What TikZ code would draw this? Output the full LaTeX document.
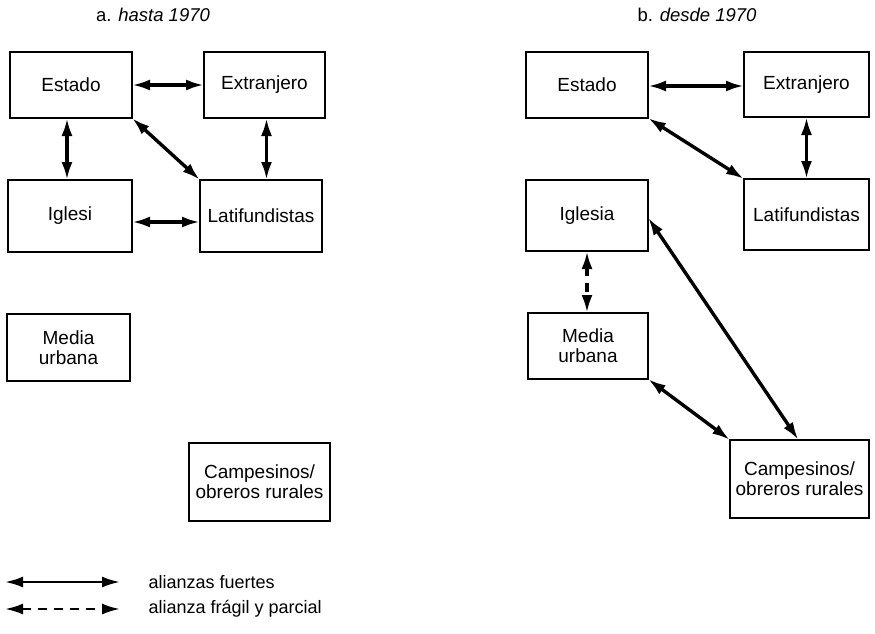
\documentclass[tikz,border=0pt]{standalone}
\usepackage{fontspec}
\setmainfont{Liberation Sans}
\usetikzlibrary{arrows.meta}
\begin{document}
\begin{tikzpicture}[x=1pt,y=-1pt,
  box/.style={draw,line width=1.5pt,inner sep=0pt,outer sep=0pt,align=center,
    font=\fontsize{19}{20}\selectfont},
  strong/.style={line width=3.4pt,{Latex[length=18pt,width=11pt]}-{Latex[length=18pt,width=11pt]}},
  weak/.style={strong,dash pattern=on 9pt off 7pt},
  ttl/.style={font=\fontsize{18.5}{20}\selectfont},
  lgd/.style={anchor=west,font=\fontsize{18}{20}\selectfont}]
\useasboundingbox[fill=white] (0,0) rectangle (875,633);
% titles
\node[ttl] (ta) at (153,15) {a. \textit{hasta 1970}};
\node[ttl] (tb) at (697,15) {b. \textit{desde 1970}};
% left panel
\node[box,minimum width=122pt,minimum height=66pt] (Ea) at (71,85) {Estado};
\node[box,minimum width=121pt,minimum height=66pt] (Xa) at (264.5,85) {Extranjero};
\node[box,minimum width=124pt,minimum height=72pt] (Ia) at (70,216) {Iglesi};
\node[box,minimum width=122pt,minimum height=72pt] (La) at (261,216) {Latifundistas};
\node[box,minimum width=123pt,minimum height=67pt] (Ma) at (68.5,347.5) {Media\\urbana};
\node[box,minimum width=141pt,minimum height=78pt] (Ca) at (259.5,482) {Campesinos/\\obreros rurales};
\draw[strong] (Ea.east) -- (Xa.west);
\draw[strong] ([xshift=-4pt]Ea.south) -- ([xshift=-4pt]Ea.south |- Ia.north);
\draw[strong] ([xshift=2pt]Xa.south) -- ([xshift=2pt]Xa.south |- La.north);
\draw[strong] (Ea.south east) -- (La.north west);
\draw[strong] ([yshift=-6pt]Ia.east) -- ([yshift=-6pt]La.west);
% right panel
\node[box,minimum width=122pt,minimum height=66pt] (Eb) at (587,85) {Estado};
\node[box,minimum width=125pt,minimum height=65pt] (Xb) at (806.5,84.5) {Extranjero};
\node[box,minimum width=122pt,minimum height=71pt] (Ib) at (587,215.5) {Iglesia};
\node[box,minimum width=125pt,minimum height=71pt] (Lb) at (806.5,214.5) {Latifundistas};
\node[box,minimum width=120pt,minimum height=66pt] (Mb) at (588,346) {Media\\urbana};
\node[box,minimum width=139pt,minimum height=78pt] (Cb) at (799.5,479) {Campesinos/\\obreros rurales};
\draw[strong] ([yshift=-1pt]Eb.east) -- ([yshift=-1pt]Eb.east -| Xb.west);
\draw[strong] (Eb.south east) -- (Lb.north west);
\draw[strong] (Xb.south) -- (Xb.south |- Lb.north);
\draw[weak] (Ib.south) -- (Ib.south |- Mb.north);
\draw[strong] ([yshift=-2pt]Ib.east) -- ([xshift=-1pt]Cb.north);
\draw[strong] (Mb.south east) -- (Cb.north west);
% legend
\coordinate (s1) at (5,582);
\coordinate (s2) at (120,582);
\coordinate (d1) at (5,609);
\coordinate (d2) at (120,609);
\draw[strong,line width=2.5pt] (s1) -- (s2);
\draw[weak,line width=2.5pt] (d1) -- (d2);
\node[lgd] (l1) at (145,582) {alianzas fuertes};
\node[lgd] (l2) at (145,609) {alianza frágil y parcial};
\end{tikzpicture}
\end{document}
